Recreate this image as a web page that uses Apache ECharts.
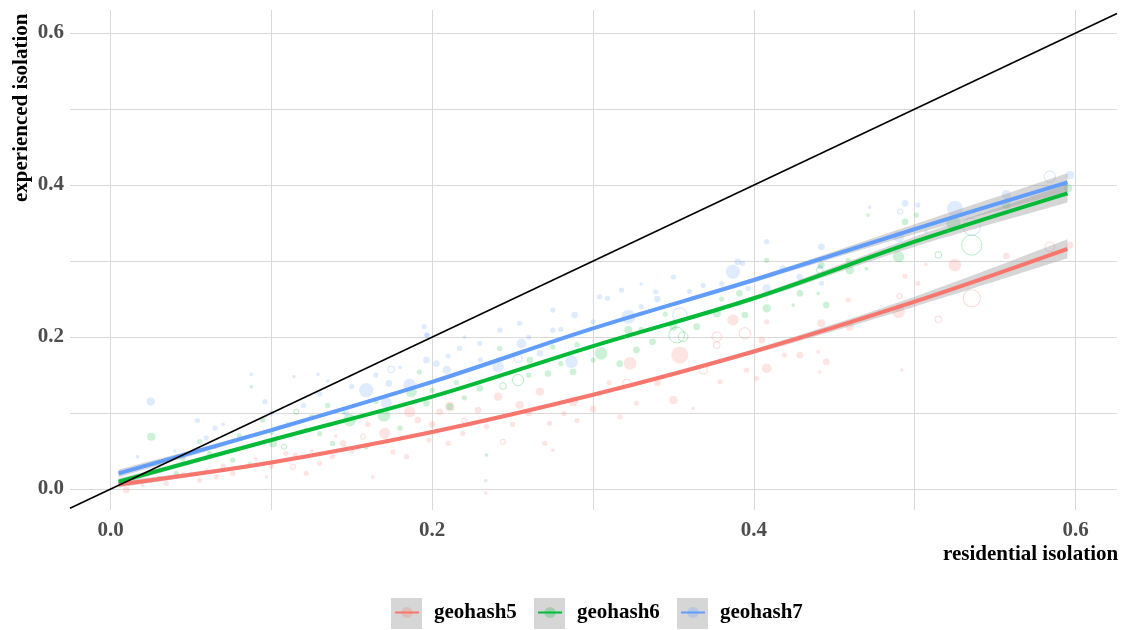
<!DOCTYPE html>
<html>
<head>
<meta charset="utf-8">
<script src="https://cdn.jsdelivr.net/npm/echarts@6/dist/echarts.min.js"></script>
<style>html,body{margin:0;padding:0;background:#fff}#c{width:1125px;height:630px}</style>
</head>
<body>
<div id="c"></div>
<script>
// ---------- data ----------
const groups = ['geohash5', 'geohash6', 'geohash7'];
const xTicks = [0, 0.2, 0.4, 0.6];
const gridTicks = [0, 0.1, 0.2, 0.3, 0.4, 0.5, 0.6];
const xRange = [-0.0252, 0.6258];
const yRange = [-0.0276, 0.6303];
const ablinePts = [[-0.0252, -0.0252], [0.6258, 0.6258]];

// smoother fits: x, fitted value, half-width of confidence band
const fitX = [0.005, 0.1, 0.2, 0.3, 0.4, 0.5, 0.595];
const fit5 = [0.006, 0.035, 0.075, 0.124, 0.181, 0.2465, 0.316];
const fit6 = [0.0097, 0.0645, 0.1215, 0.188, 0.251, 0.3254, 0.389];
const fit7 = [0.0206, 0.0776, 0.141, 0.2114, 0.275, 0.342, 0.4036];
const se5 = [0.004, 0.002, 0.002, 0.002, 0.003, 0.0065, 0.0125];
const se6 = [0.004, 0.002, 0.002, 0.002, 0.003, 0.0065, 0.012];
const se7 = [0.005, 0.0025, 0.002, 0.002, 0.003, 0.0065, 0.012];

// points: [residential, experienced, weight, hollow]
const pts5 = [
[0.1705,0.0733,6,0],[0.186,0.1017,6,0],[0.191,0.0908,3,0],[0.157,0.0688,2,1],[0.163,0.016,1,0],[0.130,0.0338,2,0],
[0.1134,0.0293,2,1],[0.109,0.047,2,0],[0.097,0.016,1,0],[0.076,0.0206,2,0],[0.0554,0.0118,2,0],[0.0098,-0.0013,3,0],
[0.1445,0.060,3,0],[0.1756,0.049,2,0],[0.184,0.0425,2,0],[0.138,0.0425,2,0],[0.1217,0.0206,2,0],[0.0844,0.0293,2,0],
[0.0346,0.0075,2,0],[0.0658,0.016,2,0],
[0.354,0.1763,10,0],[0.387,0.2224,6,0],[0.3944,0.205,6,1],[0.377,0.2004,5,1],[0.377,0.1895,3,1],[0.323,0.1654,7,0],
[0.321,0.139,4,1],[0.304,0.126,2,0],[0.2876,0.1149,5,0],[0.267,0.128,4,0],[0.2544,0.1105,4,0],[0.241,0.1215,4,0],
[0.2285,0.104,3,0],[0.211,0.1083,5,0],[0.2047,0.1017,3,0],[0.2337,0.082,2,0],[0.244,0.0622,2,1],[0.273,0.0864,2,0],
[0.282,0.0996,2,0],[0.350,0.117,4,0],[0.327,0.1128,2,0],[0.3166,0.095,2,0],[0.3622,0.106,1,0],[0.3685,0.1566,4,1],
[0.379,0.141,2,0],[0.27,0.060,2,0],[0.275,0.0513,1,0],[0.2333,-0.005,1,0],[0.198,0.0645,2,0],[0.219,0.0733,2,0],
[0.525,0.2947,7,0],[0.584,0.3188,5,1],[0.5966,0.321,3,0],[0.557,0.3066,3,0],[0.5355,0.251,10,1],[0.5147,0.2233,3,1],
[0.507,0.2957,1,0],[0.502,0.2706,2,0],[0.494,0.280,2,0],[0.49,0.2333,7,0],[0.4905,0.254,2,1],[0.492,0.1566,1,0],
[0.4587,0.2487,2,0],[0.4597,0.2136,4,0],[0.442,0.218,4,0],[0.445,0.1675,3,0],[0.4286,0.1763,3,0],[0.419,0.1763,2,0],
[0.44,0.1807,1,0],[0.441,0.1543,1,0],[0.408,0.1588,5,0],[0.3955,0.1566,2,0],[0.4017,0.1457,2,0],[0.405,0.196,3,0],
[0.408,0.220,2,0],
[0.02,0.005,1,0],[0.03,0.015,1,0],[0.045,0.02,1,0],[0.06,0.025,1,0],[0.07,0.03,2,0],[0.09,0.04,1,0],[0.1,0.03,2,0],
[0.115,0.045,2,0],[0.125,0.05,1,0],[0.14,0.07,1,0],[0.15,0.05,2,0],[0.16,0.085,2,0],[0.2,0.085,3,0],[0.21,0.06,2,0],
[0.22,0.09,2,1],[0.25,0.085,2,0],[0.26,0.1,3,0],[0.29,0.09,2,0],[0.3,0.105,3,0],[0.31,0.14,2,0],[0.34,0.14,3,0]
];
const pts6 = [
[0.0253,0.0688,4,0],[0.0875,0.1346,1,0],[0.101,0.060,4,0],[0.1155,0.1017,2,1],[0.108,0.0557,2,1],[0.1487,0.0908,7,0],
[0.170,0.097,7,0],[0.187,0.128,6,0],[0.130,0.073,2,0],[0.0554,0.0623,2,0],[0.076,0.038,2,0],[0.0616,0.047,2,0],
[0.0947,0.0908,2,0],[0.192,0.154,2,0],[0.138,0.060,2,0],[0.1217,0.0776,2,0],[0.159,0.0557,2,0],[0.0865,0.0338,1,0],
[0.0409,0.0206,2,0],[0.0263,0.0228,2,0],
[0.322,0.209,4,0],[0.305,0.1785,7,0],[0.2876,0.1543,3,0],[0.272,0.152,3,0],[0.2607,0.1697,3,0],[0.2534,0.1434,6,1],
[0.244,0.1355,3,1],[0.2296,0.1325,3,0],[0.211,0.1083,3,0],[0.1964,0.1128,3,0],[0.352,0.2026,9,1],[0.356,0.2004,5,1],
[0.35,0.2136,4,0],[0.3644,0.2136,3,0],[0.377,0.231,4,0],[0.391,0.2575,3,0],[0.337,0.1938,3,0],[0.327,0.183,3,0],
[0.3166,0.165,3,0],[0.300,0.1697,2,0],[0.2337,0.0447,1,0],[0.275,0.187,2,0],[0.242,0.185,2,0],
[0.524,0.3496,8,0],[0.5355,0.321,12,1],[0.5147,0.308,3,1],[0.494,0.3517,3,0],[0.501,0.3605,2,0],[0.471,0.3605,1,0],
[0.49,0.3057,6,0],[0.4597,0.288,4,0],[0.4587,0.301,2,0],[0.441,0.288,3,1],[0.442,0.2947,3,0],[0.4286,0.2575,3,0],
[0.408,0.301,2,0],[0.408,0.2377,4,0],[0.445,0.242,3,0],[0.4245,0.242,1,0],[0.44,0.2575,1,0],[0.3944,0.229,3,0],
[0.5955,0.3957,4,0],[0.557,0.3737,4,0],
[0.03,0.03,1,0],[0.045,0.04,2,0],[0.065,0.055,1,0],[0.08,0.07,2,0],[0.1,0.075,2,0],[0.11,0.085,1,0],[0.125,0.095,2,0],
[0.135,0.11,2,0],[0.145,0.1,1,0],[0.165,0.115,2,0],[0.175,0.125,1,0],[0.18,0.08,2,0],[0.2,0.13,2,0],[0.215,0.14,2,0],
[0.22,0.12,2,0],[0.26,0.15,2,0],[0.28,0.165,2,0],[0.29,0.19,2,0],[0.33,0.21,2,0],[0.345,0.23,2,0],[0.38,0.25,2,0],
[0.47,0.29,1,0]
];
const pts7 = [
[0.025,0.115,4,0],[0.054,0.090,2,0],[0.0875,0.151,1,0],[0.114,0.148,1,0],[0.129,0.151,1,0],[0.135,0.142,1,0],
[0.096,0.115,2,0],[0.065,0.080,2,0],[0.0595,0.067,2,0],[0.159,0.130,8,0],[0.1715,0.113,6,0],[0.186,0.137,7,0],
[0.173,0.139,3,0],[0.195,0.2135,2,0],[0.197,0.2026,2,0],[0.1745,0.1575,3,1],[0.1466,0.1,2,0],[0.0168,0.0425,1,0],
[0.387,0.286,8,0],[0.390,0.299,3,0],[0.322,0.2267,8,0],[0.2866,0.1675,7,0],[0.2555,0.1917,5,0],[0.241,0.161,6,0],
[0.2534,0.172,4,1],[0.354,0.229,8,1],[0.350,0.279,2,0],[0.339,0.2596,2,0],[0.3177,0.2618,2,0],[0.309,0.251,2,0],
[0.2886,0.229,3,0],[0.275,0.209,2,0],[0.2544,0.218,2,0],[0.242,0.209,2,0],[0.2296,0.1917,2,0],[0.217,0.185,2,0],
[0.209,0.1566,4,0],[0.1964,0.2026,2,0],[0.1964,0.1697,3,0],[0.2026,0.165,3,0],[0.3685,0.268,2,0],[0.2333,0.011,1,0],
[0.275,0.2355,2,0],[0.304,0.253,2,0],[0.267,0.1785,3,0],
[0.525,0.369,9,0],[0.584,0.411,6,1],[0.5966,0.413,4,0],[0.557,0.387,5,0],[0.5355,0.345,10,1],[0.494,0.376,3,0],
[0.502,0.3737,2,0],[0.491,0.365,2,1],[0.472,0.371,1,0],[0.49,0.332,6,0],[0.507,0.3386,1,0],[0.442,0.3188,3,0],
[0.408,0.3254,2,0],[0.418,0.290,3,0],[0.4286,0.279,3,0],[0.442,0.2706,2,0],[0.408,0.264,4,0],[0.3965,0.264,2,0],
[0.393,0.297,2,0],[0.441,0.2925,2,0],
[0.04,0.05,1,0],[0.07,0.085,1,0],[0.1,0.1,2,0],[0.12,0.11,2,0],[0.13,0.125,2,0],[0.15,0.135,2,0],[0.165,0.15,2,0],
[0.18,0.16,1,0],[0.21,0.175,2,0],[0.22,0.2,1,0],[0.23,0.17,2,0],[0.26,0.2,2,0],[0.28,0.21,2,0],[0.3,0.22,2,0],
[0.33,0.24,2,0],[0.34,0.25,3,0],[0.36,0.26,2,0],[0.38,0.27,2,0],[0.33,0.27,1,0]
];

// ---------- styling ----------
const colors = ['#F8766D', '#00BA38', '#619CFF'];
const rgba = (hex, a) => {
  const n = parseInt(hex.slice(1), 16);
  return `rgba(${(n >> 16) & 255},${(n >> 8) & 255},${n & 255},${a})`;
};
const FONT = 'Liberation Serif';
const FS = 21;
const gridColor = '#d9d9d9';
const bandColor = 'rgba(153,153,153,0.4)';
const sizeOf = w => 2.2 + 1.5 * w;

// Catmull-Rom spline through pixel points -> bezier path commands
function splineCmds(p) {
  let d = '';
  for (let i = 0; i < p.length - 1; i++) {
    const p0 = p[i - 1] || p[i], p1 = p[i], p2 = p[i + 1], p3 = p[i + 2] || p[i + 1];
    const c1 = [p1[0] + (p2[0] - p0[0]) / 6, p1[1] + (p2[1] - p0[1]) / 6];
    const c2 = [p2[0] - (p3[0] - p1[0]) / 6, p2[1] - (p3[1] - p1[1]) / 6];
    d += ` C${c1[0]},${c1[1]} ${c2[0]},${c2[1]} ${p2[0]},${p2[1]}`;
  }
  return d;
}

const series = [];
const allPts = [pts5, pts6, pts7];
const fits = [fit5, fit6, fit7];
const ses = [se5, se6, se7];

allPts.forEach((pts, i) => {
  series.push({
    type: 'scatter', name: 'pts' + i, silent: true, z: 1,
    data: pts.filter(p => !p[3]).map(p => [p[0], p[1], p[2]]),
    symbolSize: v => sizeOf(v[2]),
    itemStyle: { color: rgba(colors[i], 0.25), borderWidth: 0 }
  });
  series.push({
    type: 'scatter', name: 'hollow' + i, silent: true, z: 1,
    data: pts.filter(p => p[3]).map(p => [p[0], p[1], p[2]]),
    symbolSize: v => sizeOf(v[2]),
    itemStyle: { color: 'rgba(0,0,0,0)', borderColor: rgba(colors[i], 0.35), borderWidth: 1 }
  });
});

groups.forEach((g, i) => {
  const f = fits[i], s = ses[i];
  const bandData = fitX.map((x, k) => [x, f[k] - s[k], f[k] + s[k]]);
  series.push({
    type: 'custom', name: 'band' + i, silent: true, z: 2,
    coordinateSystem: 'cartesian2d',
    encode: { x: 0, y: [1, 2] },
    data: bandData,
    renderItem: (params, api) => {
      if (params.dataIndex !== 0) return null;
      const up = bandData.map(r => api.coord([r[0], r[2]]));
      const lo = bandData.map(r => api.coord([r[0], r[1]])).reverse();
      const d = `M${up[0][0]},${up[0][1]}` + splineCmds(up) +
        ` L${lo[0][0]},${lo[0][1]}` + splineCmds(lo) + ' Z';
      return { type: 'path', shape: { pathData: d }, style: { fill: bandColor } };
    }
  });
  series.push({
    type: 'line', name: g, silent: true, z: 2,
    data: fitX.map((x, k) => [x, f[k]]),
    symbol: 'none', smooth: 0.35,
    lineStyle: { color: colors[i], width: 4 },
    itemStyle: { color: colors[i] }
  });
});

series.push({
  type: 'line', name: 'abline', silent: true, z: 3,
  data: ablinePts, symbol: 'none',
  lineStyle: { color: '#000', width: 1.6 }
});

const legendLeft = [394, 537, 680];
const legends = groups.map((g, i) => ({
  data: [g], left: legendLeft[i], top: 602, padding: 0,
  itemWidth: 24, itemHeight: 14, selectedMode: false,
  itemStyle: { color: rgba(colors[i], 0.25) },
  textStyle: { fontFamily: FONT, fontSize: FS, fontWeight: 'bold', color: '#000', padding: [0, 0, 0, 10] }
}));

const chart = echarts.init(document.getElementById('c'), null, { renderer: 'canvas' });
chart.setOption({
  animation: false,
  backgroundColor: '#fff',
  grid: { left: 70, right: 8, top: 10, bottom: 120, containLabel: false, outerBoundsMode: 'none' },
  graphic: legendLeft.map(l => ({
    type: 'rect', left: l - 3, top: 598, z: -10,
    shape: { width: 31, height: 31 }, style: { fill: '#d6d6d6' }
  })),
  legend: legends,
  xAxis: {
    type: 'value', min: xRange[0], max: xRange[1],
    axisLine: { show: false }, axisTick: { show: false, customValues: gridTicks },
    splitLine: { show: true, lineStyle: { color: gridColor, width: 1 } },
    axisLabel: { customValues: xTicks, formatter: v => v.toFixed(1), margin: 10,
      fontFamily: FONT, fontSize: FS, fontWeight: 'bold', color: '#4d4d4d' },
    name: 'residential isolation', nameLocation: 'end', nameGap: -174,
    nameTextStyle: { fontFamily: FONT, fontSize: FS, fontWeight: 'bold', color: '#000', verticalAlign: 'top', padding: [55, 0, 0, 0] }
  },
  yAxis: {
    type: 'value', min: yRange[0], max: yRange[1],
    axisLine: { show: false }, axisTick: { show: false, customValues: gridTicks },
    splitLine: { show: true, lineStyle: { color: gridColor, width: 1 } },
    axisLabel: { customValues: xTicks, formatter: v => v.toFixed(1), margin: 6,
      fontFamily: FONT, fontSize: FS, fontWeight: 'bold', color: '#4d4d4d' },
    name: 'experienced isolation', nameLocation: 'end', nameGap: -192, nameRotate: 90,
    nameTextStyle: { fontFamily: FONT, fontSize: FS, fontWeight: 'bold', color: '#000', verticalAlign: 'bottom', padding: [0, 0, 78, 0] }
  },
  series: series
});
</script>
</body>
</html>
